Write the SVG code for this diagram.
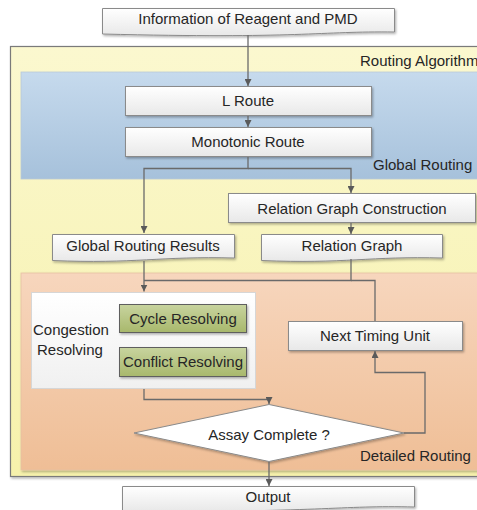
<svg xmlns="http://www.w3.org/2000/svg" width="477" height="510" viewBox="0 0 477 510">
<defs>
<linearGradient id="gY" x1="0" y1="0" x2="0" y2="1"><stop offset="0" stop-color="#fbf8cf"/><stop offset="1" stop-color="#f6f1ab"/></linearGradient>
<linearGradient id="gB" x1="0" y1="0" x2="0" y2="1"><stop offset="0" stop-color="#c6daed"/><stop offset="1" stop-color="#a6c1db"/></linearGradient>
<linearGradient id="gO" x1="0" y1="0" x2="0" y2="1"><stop offset="0" stop-color="#f7d6bd"/><stop offset="1" stop-color="#efbe96"/></linearGradient>
<linearGradient id="gW" x1="0" y1="0" x2="0" y2="1"><stop offset="0" stop-color="#ffffff"/><stop offset="1" stop-color="#e8e8e8"/></linearGradient>
<linearGradient id="gC" x1="0" y1="0" x2="0" y2="1"><stop offset="0" stop-color="#ffffff"/><stop offset="1" stop-color="#f0f0f0"/></linearGradient>
<linearGradient id="gG" x1="0" y1="0" x2="0" y2="1"><stop offset="0" stop-color="#c8d49f"/><stop offset="1" stop-color="#a8b86c"/></linearGradient>
<filter id="sh" x="-10%" y="-10%" width="130%" height="140%"><feDropShadow dx="1.2" dy="1.5" stdDeviation="0.9" flood-color="#000" flood-opacity="0.3"/></filter>
<marker id="ah" viewBox="0 0 10 10" refX="10" refY="5" markerWidth="7" markerHeight="7" markerUnits="userSpaceOnUse" orient="auto"><path d="M0,0 L10,5 L0,10 Z" fill="#5a5a5a"/></marker>
<style>
text{font-family:"Liberation Sans",Arial,sans-serif;font-size:15px;fill:#262626}
.c{text-anchor:middle}
.box{fill:url(#gW);stroke:#8a8a8a;stroke-width:1;filter:url(#sh)}
.grn{fill:url(#gG);stroke:#5e5e5e;stroke-width:1;filter:url(#sh)}
.ln{fill:none;stroke:#6a6a6a;stroke-width:1.3}
.arr{marker-end:url(#ah)}
</style>
</defs>

<g id="routing-algorithm">
<rect x="10.5" y="46.5" width="480" height="430" fill="url(#gY)" stroke="#7a7a7a" stroke-width="1.2" filter="url(#sh)"/>
<text x="360" y="66">Routing Algorithm</text>
</g>

<g id="global-routing">
<rect x="21" y="72" width="470" height="107" fill="url(#gB)" stroke="#b8c8d8" stroke-width="0.8"/>
<text x="373" y="170">Global Routing</text>
</g>

<g id="detailed-routing">
<rect x="21" y="273" width="470" height="197" fill="url(#gO)" stroke="#e6c0a4" stroke-width="0.8" filter="url(#sh)"/>
<text x="360" y="461">Detailed Routing</text>
</g>

<g id="info">
<path class="box" d="M102.5,8.5 H394.5 V32 C320,31 300,39 102.5,34 Z"/>
<text class="c" x="248" y="24">Information of Reagent and PMD</text>
</g>

<g id="l-route">
<rect class="box" x="125.5" y="86.5" width="246" height="29"/>
<text class="c" x="248" y="106">L Route</text>
</g>

<g id="monotonic-route">
<rect class="box" x="125.5" y="127.5" width="246" height="29"/>
<text class="c" x="248" y="147">Monotonic Route</text>
</g>

<g id="relation-graph-construction">
<rect class="box" x="228.5" y="193.5" width="247" height="29"/>
<text class="c" x="352" y="214">Relation Graph Construction</text>
</g>

<g id="global-routing-results">
<path class="box" d="M52.5,234.5 H234.5 V258 C160,256 135,264 52.5,260.5 Z"/>
<text class="c" x="143" y="251">Global Routing Results</text>
</g>

<g id="relation-graph">
<path class="box" d="M261.5,234.5 H442.5 V258 C370,256 345,264 261.5,260.5 Z"/>
<text class="c" x="352" y="251">Relation Graph</text>
</g>

<g id="congestion-resolving">
<rect x="31.5" y="292.5" width="224" height="96" fill="url(#gC)" stroke="#d6d6d6" stroke-width="1"/>
<text x="33" y="335">Congestion</text>
<text x="37" y="355">Resolving</text>
</g>

<g id="cycle-resolving">
<rect class="grn" x="119.5" y="304.5" width="127" height="28"/>
<text class="c" x="183" y="324">Cycle Resolving</text>
</g>

<g id="conflict-resolving">
<rect class="grn" x="119.5" y="347.5" width="127" height="29"/>
<text class="c" x="183" y="367">Conflict Resolving</text>
</g>

<g id="next-timing-unit">
<rect class="box" x="288.5" y="321.5" width="174" height="29"/>
<text class="c" x="375" y="341">Next Timing Unit</text>
</g>

<g id="assay-complete">
<path d="M134,433 L269,404.5 L404,433 L269,461.5 Z" fill="#ffffff" stroke="#8a8a8a" stroke-width="1" filter="url(#sh)"/>
<text class="c" x="269" y="440">Assay Complete ?</text>
</g>

<g id="output">
<path class="box" d="M122.5,486.5 H414.5 V507 C340,505 320,513 122.5,511 Z"/>
<text class="c" x="268" y="502">Output</text>
</g>

<g id="connectors">
<path class="ln arr" d="M248,35 V86"/>
<path class="ln arr" d="M248,116 V127"/>
<path class="ln arr" d="M248,157 V168.5 H144 V233"/>
<path class="ln arr" d="M248,168.5 H351 V193"/>
<path class="ln arr" d="M351,223 V234"/>
<path class="ln arr" d="M144,261 V291.5"/>
<path class="ln" d="M351,259 V280.5 H144"/>
<path class="ln" d="M375,321 V280.5 H351"/>
<path class="ln arr" d="M144,389 V399.5 H269 V404"/>
<path class="ln arr" d="M404,433 H425 V372.5 H375 V351"/>
<path class="ln arr" d="M269,462 V486"/>
</g>
</svg>
